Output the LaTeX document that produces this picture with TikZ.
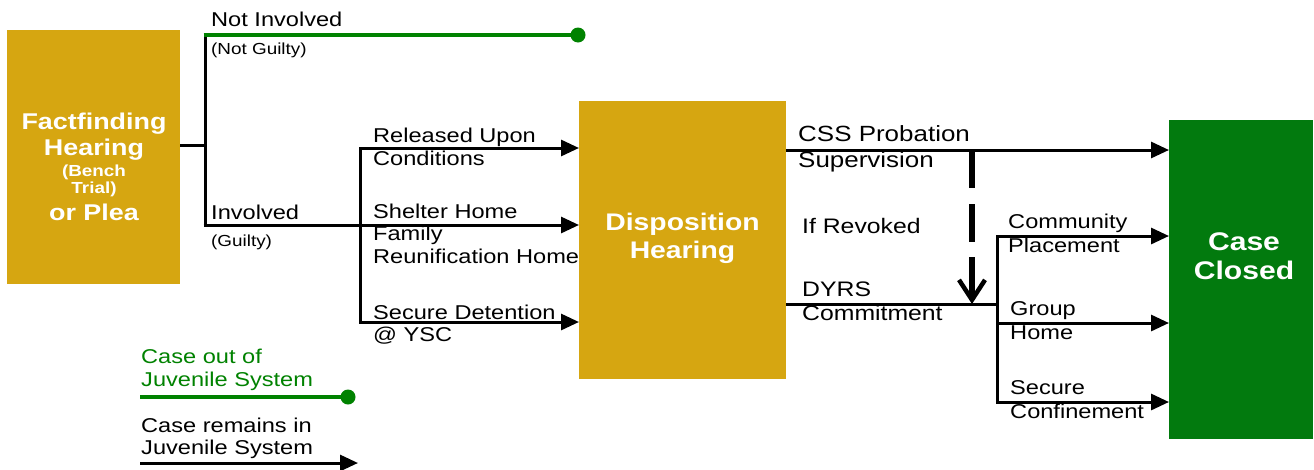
\documentclass[tikz,border=0pt]{standalone}
\usepackage{fontspec}
\setmainfont{Liberation Sans}[FakeStretch=1.18]
\usetikzlibrary{arrows.meta}
\definecolor{gold}{RGB}{214,166,17}
\definecolor{ccgreen}{RGB}{2,122,14}
\definecolor{lgreen}{RGB}{0,130,0}
\begin{document}
\begin{tikzpicture}[x=1pt,y=-1pt,
  lbl/.style={anchor=base west,inner sep=0pt,font=\fontsize{20}{23}\selectfont},
  blbl/.style={anchor=base west,inner sep=0pt,font=\fontsize{22}{24}\selectfont},
  mlbl/.style={anchor=base west,inner sep=0pt,font=\fontsize{21}{24}\selectfont},
  sm/.style={anchor=base west,inner sep=0pt,font=\fontsize{16}{18}\selectfont},
  glbl/.style={lbl,text=lgreen},
  boxtxt/.style={anchor=base,inner sep=0pt,text=white,font=\bfseries\fontsize{#1}{#1}\selectfont},
  conn/.style={line width=3pt},
  rconn/.style={conn,line cap=rect},
  arr/.style={conn,-{Triangle[length=18pt,width=16pt]}},
  gline/.style={lgreen,line width=4pt},
  gdot/.style={circle,fill=lgreen,minimum size=15pt,inner sep=0pt}]
\useasboundingbox (0,0) rectangle (1314,469);
\fill[white] (0,0) rectangle (1314,469);

% boxes
\node[fill=gold,minimum width=173pt,minimum height=254pt,anchor=north west,inner sep=0pt] (ff) at (7,30) {};
\node[fill=gold,minimum width=207pt,minimum height=278pt,anchor=north west,inner sep=0pt] (dh) at (579,101) {};
\node[fill=ccgreen,minimum width=144pt,minimum height=319pt,anchor=north west,inner sep=0pt] (cc) at (1169,120) {};

% box texts
\node[boxtxt=22.8] (ff1) at (94,129) {Factfinding};
\node[boxtxt=22.8] (ff2) at (94,155) {Hearing};
\node[boxtxt=16] (ff3) at (94,176) {(Bench};
\node[boxtxt=16] (ff4) at (94,193) {Trial)};
\node[boxtxt=22.8] (ff5) at (94,220) {or Plea};
\node[boxtxt=24] (dh1) at (682.5,230) {Disposition};
\node[boxtxt=24] (dh2) at (682.5,258) {Hearing};
\node[boxtxt=25.5] (cc1) at (1244,250) {Case};
\node[boxtxt=25.5] (cc2) at (1244,279) {Closed};

% coordinates
\coordinate (j1) at (205,145);
\coordinate (ni) at (205,35);
\coordinate (inv) at (205,225);
\coordinate (r1) at (360,148);
\coordinate (r3) at (360,322);
\coordinate (css) at (972,150);
\coordinate (dmid) at (972,257);
\coordinate (dy) at (972,304);
\coordinate (j2) at (997,304);
\coordinate (c1) at (997,236);
\coordinate (c2) at (997,323);
\coordinate (c3) at (997,402);

% left branches
\draw[conn] (ff.east |- j1) -- (j1);
\draw[rconn] (ni) -- (inv);
\node[gdot] (dot1) at (578,35) {};
\draw[gline] ([xshift=-1.5pt]ni) -- (dot1.center);
\draw[arr] ([xshift=-1.5pt]inv) -- (dh.west |- inv);
\draw[rconn] (r1) -- (r3);
\draw[arr] (r1) -- (dh.west |- r1);
\draw[arr] (r3) -- (dh.west |- r3);

% right branches
\draw[arr] (dh.east |- css) -- (cc.west |- css);
\draw[line width=5.5pt,dash pattern=on 38pt off 16pt] (css) -- (dmid);
\draw[line width=5.5pt,-{Straight Barb[length=20pt,width=26pt,line width=4.5pt]}] (dmid) -- (dy);
\draw[conn] (dh.east |- dy) -- (j2);
\draw[rconn] (c1) -- (c3);
\draw[arr] (c1) -- (cc.west |- c1);
\draw[arr] (c2) -- (cc.west |- c2);
\draw[arr] (c3) -- (cc.west |- c3);

% labels
\node[lbl] (l-ni) at (211,26) {Not Involved};
\node[sm] (l-ng) at (211,54.5) {(Not Guilty)};
\node[lbl] (l-inv) at (211,219) {Involved};
\node[sm] (l-g) at (211,246) {(Guilty)};
\node[lbl] (l-r1) at (373,142) {Released Upon};
\node[lbl] (l-r2) at (373,165) {Conditions};
\node[lbl] (l-s1) at (373,218) {Shelter Home};
\node[lbl] (l-s2) at (373,240) {Family};
\node[lbl] (l-s3) at (373,263) {Reunification Home};
\node[lbl] (l-d1) at (373,319) {Secure Detention};
\node[lbl] (l-d2) at (373,341) {@ YSC};
\node[blbl] (l-c1) at (798,141) {CSS Probation};
\node[blbl] (l-c2) at (798,167) {Supervision};
\node[mlbl] (l-rv) at (802,233) {If Revoked};
\node[mlbl] (l-y1) at (802,296) {DYRS};
\node[mlbl] (l-y2) at (802,320) {Commitment};
\node[lbl] (l-p1) at (1008,228) {Community};
\node[lbl] (l-p2) at (1008,252) {Placement};
\node[lbl] (l-g1) at (1010,315) {Group};
\node[lbl] (l-g2) at (1010,339) {Home};
\node[lbl] (l-sc1) at (1010,394) {Secure};
\node[lbl] (l-sc2) at (1010,418) {Confinement};

% legend
\node[glbl] (lg1) at (141,363) {Case out of};
\node[glbl] (lg2) at (141,386) {Juvenile System};
\coordinate (lgs) at (140,397);
\node[gdot] (dot2) at (348,397) {};
\draw[gline] (lgs) -- (dot2.center);
\node[lbl] (lb1) at (141,432) {Case remains in};
\node[lbl] (lb2) at (141,454) {Juvenile System};
\coordinate (lbs) at (140,463);
\coordinate (lbe) at (358,463);
\draw[arr] (lbs) -- (lbe);
\end{tikzpicture}
\end{document}
